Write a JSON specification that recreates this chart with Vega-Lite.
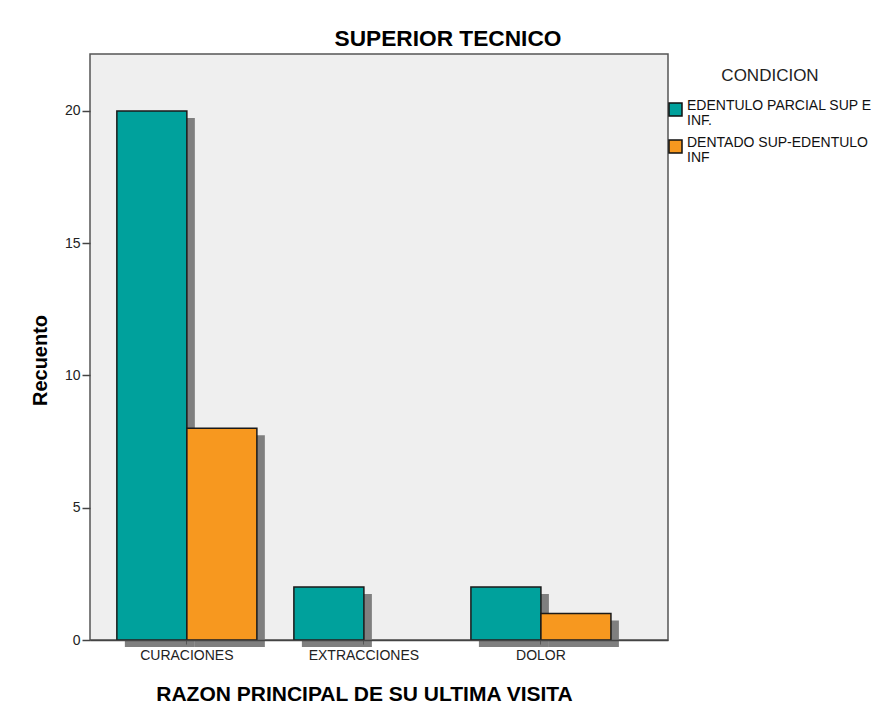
{
  "$schema": "https://vega.github.io/schema/vega-lite/v6.json",
  "autosize": "none",
  "width": 578,
  "height": 586,
  "padding": {"left": 90, "top": 54, "right": 206, "bottom": 73},
  "background": "white",
  "config": {
    "font": "Liberation Sans",
    "view": {"fill": "#efefef", "stroke": "#555555", "strokeWidth": 1.5}
  },
  "title": {
    "text": "SUPERIOR TECNICO",
    "fontSize": 22.7,
    "fontWeight": "bold",
    "font": "Liberation Sans",
    "color": "#000000",
    "anchor": "middle",
    "baseline": "alphabetic",
    "offset": 7,
    "dx": 69,
    "dy": 22
  },
  "data": {
    "values": [
      {"razon": "CURACIONES", "condicion": "EDENTULO PARCIAL SUP E INF.", "recuento": 20},
      {"razon": "CURACIONES", "condicion": "DENTADO SUP-EDENTULO INF", "recuento": 8},
      {"razon": "EXTRACCIONES", "condicion": "EDENTULO PARCIAL SUP E INF.", "recuento": 2},
      {"razon": "DOLOR", "condicion": "EDENTULO PARCIAL SUP E INF.", "recuento": 2},
      {"razon": "DOLOR", "condicion": "DENTADO SUP-EDENTULO INF", "recuento": 1}
    ]
  },
  "encoding": {
    "x": {
      "field": "razon",
      "type": "nominal",
      "sort": ["CURACIONES", "EXTRACCIONES", "DOLOR"],
      "scale": {"paddingInner": 0.209, "paddingOuter": 0.237, "align": 0.32},
      "axis": {
        "title": "RAZON PRINCIPAL DE SU ULTIMA VISITA",
        "titleFontSize": 21,
        "titleFontWeight": "bold",
        "titleColor": "#000000",
        "titleX": 274,
        "titleY": 60,
        "titleAlign": "center",
        "titleBaseline": "alphabetic",
        "labelAngle": 0,
        "labelFontSize": 14,
        "labelColor": "#222222",
        "labelPadding": 4,
        "tickSize": 4,
        "tickColor": "#555555",
        "domainColor": "#444444",
        "domainWidth": 1.5,
        "zindex": 1
      }
    },
    "y": {
      "field": "recuento",
      "type": "quantitative",
      "scale": {"domain": [0, 22.15], "nice": false},
      "axis": {
        "title": "Recuento",
        "titleFontSize": 20,
        "titleFontWeight": "bold",
        "titleColor": "#000000",
        "titleX": -44,
        "titleY": 306,
        "titleAngle": -90,
        "titleAlign": "center",
        "titleBaseline": "alphabetic",
        "values": [0, 5, 10, 15, 20],
        "grid": false,
        "domain": false,
        "labelFontSize": 14,
        "labelColor": "#222222",
        "labelPadding": 2,
        "tickSize": 8,
        "tickColor": "#444444",
        "tickWidth": 1.5
      }
    }
  },
  "resolve": {"scale": {"xOffset": "independent"}},
  "layer": [
    {
      "mark": {"type": "bar", "color": "#7f7f7f", "yOffset": 7, "y2Offset": 7},
      "encoding": {
        "xOffset": {
          "field": "condicion",
          "type": "nominal",
          "sort": ["EDENTULO PARCIAL SUP E INF.", "DENTADO SUP-EDENTULO INF"],
          "scale": {"domain": ["EDENTULO PARCIAL SUP E INF.", "DENTADO SUP-EDENTULO INF"], "range": [8, 148], "paddingInner": 0, "paddingOuter": 0}
        }
      }
    },
    {
      "mark": {"type": "bar", "stroke": "#1a1a1a", "strokeWidth": 1.5, "opacity": 1},
      "encoding": {
        "xOffset": {
          "field": "condicion",
          "type": "nominal",
          "sort": ["EDENTULO PARCIAL SUP E INF.", "DENTADO SUP-EDENTULO INF"],
          "scale": {"domain": ["EDENTULO PARCIAL SUP E INF.", "DENTADO SUP-EDENTULO INF"], "paddingInner": 0, "paddingOuter": 0}
        },
        "color": {
          "field": "condicion",
          "type": "nominal",
          "sort": ["EDENTULO PARCIAL SUP E INF.", "DENTADO SUP-EDENTULO INF"],
          "scale": {
            "domain": ["EDENTULO PARCIAL SUP E INF.", "DENTADO SUP-EDENTULO INF"],
            "range": ["#00a19c", "#f7981f"]
          },
          "legend": {
            "title": "CONDICION",
            "orient": "none",
            "legendX": 578,
            "legendY": 14,
            "padding": 0,
            "titleFontSize": 17,
            "titleFontWeight": "normal",
            "titleColor": "#222222",
            "titleAnchor": "middle",
            "titlePadding": 17,
            "symbolType": "square",
            "symbolSize": 169,
            "symbolStrokeColor": "#111111",
            "symbolStrokeWidth": 1.5,
            "symbolOpacity": 1,
            "labelFontSize": 14,
            "labelColor": "#111111",
            "labelOffset": 4,
            "labelLimit": 300,
            "rowPadding": 7,
            "labelExpr": "datum.label == 'EDENTULO PARCIAL SUP E INF.' ? ['EDENTULO PARCIAL SUP E', 'INF.'] : ['DENTADO SUP-EDENTULO', 'INF']",
            "encode": {"labels": {"update": {"lineHeight": {"value": 15}, "dy": {"value": -4}}}}
          }
        }
      }
    }
  ]
}
